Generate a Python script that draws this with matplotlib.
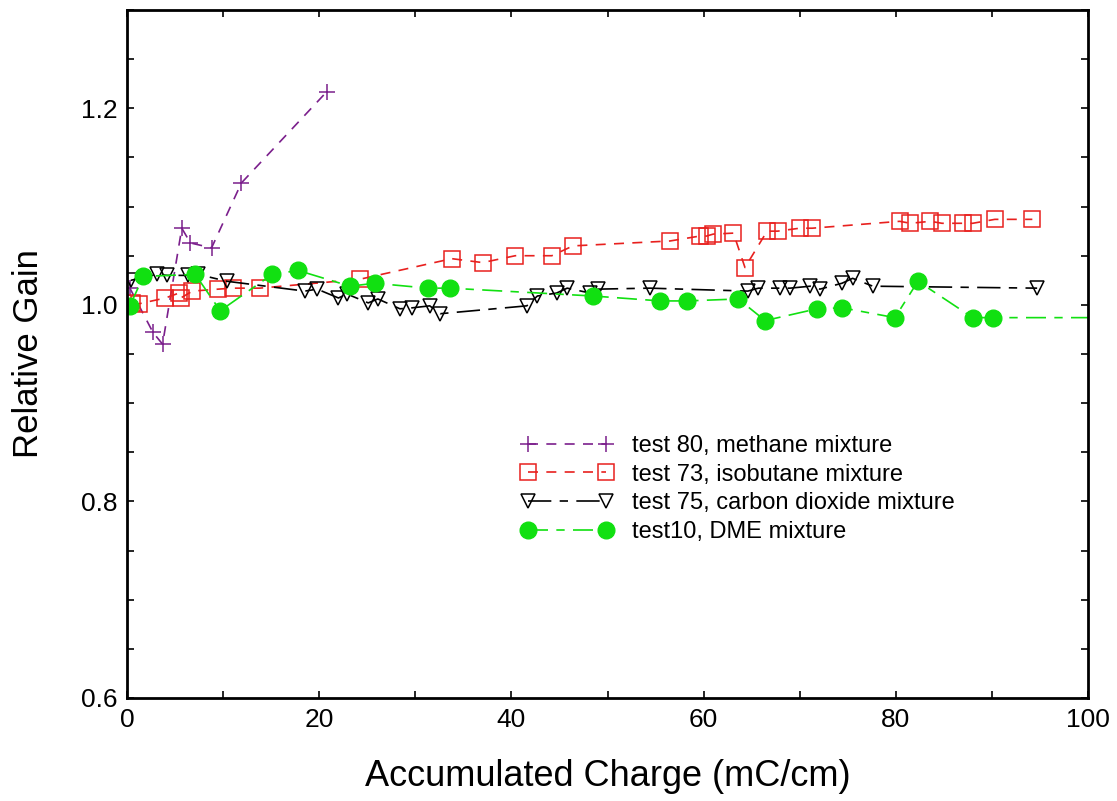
import matplotlib
matplotlib.use("Agg")
import matplotlib.pyplot as plt
from matplotlib.ticker import MultipleLocator

plt.rcParams['font.family'] = ['Liberation Sans', 'DejaVu Sans']

# --- data ---
methane_x = [0.3, 2.7, 3.7, 5.7, 6.6, 8.8, 11.9, 20.8]
methane_y = [1.017, 0.972, 0.960, 1.078, 1.063, 1.058, 1.124, 1.217]

isobutane_x = [0.5, 1.2, 4.0, 5.4, 5.6, 6.8, 9.5, 11.0, 13.8, 24.2, 33.8, 37.0, 40.4,
               44.2, 46.4, 56.5, 59.6, 60.3, 61.0, 63.1, 64.3, 66.6, 67.7, 70.0, 71.3,
               80.4, 81.5, 83.6, 84.8, 87.0, 88.0, 90.3, 94.2]
isobutane_y = [1.002, 1.001, 1.007, 1.012, 1.007, 1.014, 1.016, 1.017, 1.017, 1.026, 1.047,
               1.043, 1.050, 1.050, 1.060, 1.065, 1.070, 1.070, 1.072, 1.073, 1.038, 1.075,
               1.075, 1.078, 1.078, 1.085, 1.083, 1.085, 1.083, 1.083, 1.083, 1.087, 1.087]

co2_x = [0.4, 3.1, 4.2, 6.3, 7.4, 10.4, 18.5, 19.8, 22.0, 22.9, 25.1, 26.1, 28.4, 29.7,
         31.5, 32.6, 41.6, 42.7, 44.7, 45.8, 48.2, 49.0, 54.4, 64.6, 65.7, 67.9, 69.0,
         71.1, 72.1, 74.4, 75.5, 77.6, 94.7]
co2_y = [1.025, 1.031, 1.030, 1.030, 1.031, 1.024, 1.014, 1.016, 1.007, 1.011, 1.002,
         1.006, 0.996, 0.997, 0.999, 0.991, 0.999, 1.009, 1.012, 1.017, 1.012, 1.016,
         1.017, 1.014, 1.017, 1.017, 1.017, 1.019, 1.016, 1.022, 1.027, 1.019, 1.017]

dme_x = [0.3, 1.7, 7.1, 9.7, 15.1, 17.8, 23.2, 25.8, 31.3, 33.6, 48.5, 55.5, 58.3, 63.6,
         66.4, 71.8, 74.4, 79.9, 82.3, 88.0, 90.1, 106.0]
dme_y = [0.999, 1.029, 1.031, 0.994, 1.031, 1.035, 1.019, 1.022, 1.017, 1.017, 1.009,
         1.004, 1.004, 1.006, 0.984, 0.996, 0.997, 0.987, 1.024, 0.987, 0.987, 0.987]

labels = ["test 80, methane mixture", "test 73, isobutane mixture",
          "test 75, carbon dioxide mixture", "test10, DME mixture"]

fig = plt.figure(figsize=(11.17, 8.01), dpi=100)
ax = fig.add_axes([0.1137, 0.1286, 0.8604, 0.8589])

ax.plot(methane_x, methane_y, color='#7b1f8c', linestyle=(0, (6, 5)), lw=1.2,
        marker='+', ms=12, mew=1.1, label=labels[0])
ax.plot(isobutane_x, isobutane_y, color='#e8201e', linestyle=(0, (6, 5)), lw=1.2,
        marker='s', ms=11, mfc='none', mew=1.1, label=labels[1])
ax.plot(co2_x, co2_y, color='black', linestyle=(0, (14, 5, 5, 5)), lw=1.2,
        marker='v', ms=10.5, mfc='none', mew=1.1, label=labels[2])
ax.plot(dme_x, dme_y, color='#11e011', linestyle=(0, (12, 5, 5, 5)), lw=1.2,
        marker='o', ms=12, mec='#11e011', label=labels[3])

ax.set_xlim(0, 100)
ax.set_ylim(0.6, 1.3)
ax.xaxis.set_major_locator(MultipleLocator(20))
ax.xaxis.set_minor_locator(MultipleLocator(10))
ax.yaxis.set_major_locator(MultipleLocator(0.2))
ax.yaxis.set_minor_locator(MultipleLocator(0.05))
ax.yaxis.set_major_formatter(plt.FuncFormatter(lambda v, p: f"{v:.1f}"))
ax.tick_params(which='both', direction='in', top=True, right=True, length=5, width=1.2,
               labelsize=19, pad=7)
for s in ax.spines.values():
    s.set_linewidth(2)

ax.set_xlabel("Accumulated Charge (mC/cm)", fontsize=26, labelpad=20)
ax.set_ylabel("Relative Gain", fontsize=25, labelpad=26)

leg = ax.legend(loc='upper left', bbox_to_anchor=(0.400, 0.396), frameon=False,
                fontsize=17, handlelength=3.9, handletextpad=0.8, labelspacing=0.28,
                borderaxespad=0, numpoints=2)

fig.savefig("out.png", dpi=100)
